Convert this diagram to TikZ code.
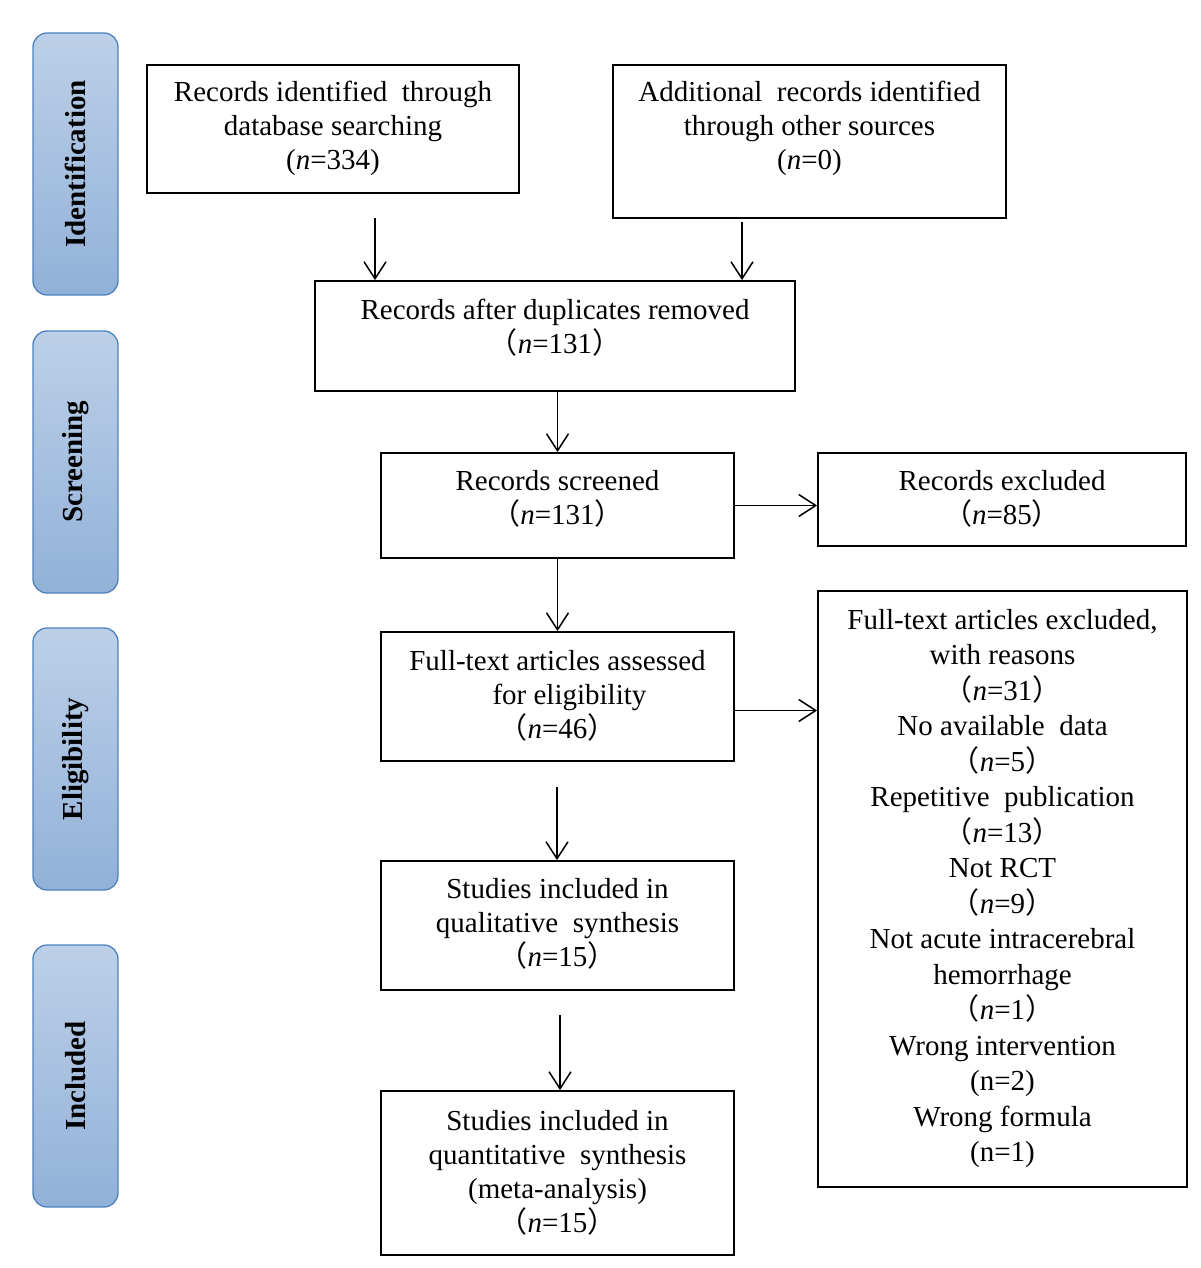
\documentclass[tikz,border=0pt]{standalone}
\usepackage{fontspec}
\setmainfont{Liberation Serif}
\newfontfamily\cjk{Noto Sans CJK SC}
\usetikzlibrary{arrows.meta}
\newcommand{\fl}{{\cjk （}}
\newcommand{\fr}{{\cjk ）}}
\newcommand{\nn}{\textit{n}=}
\definecolor{phasetop}{HTML}{BCD0E8}
\definecolor{phasebot}{HTML}{92B1D8}
\definecolor{phaseborder}{HTML}{4F81BD}
\begin{document}
\begin{tikzpicture}[x=1pt,y=-1pt,
  box/.style={draw=black, line width=1.8pt, inner sep=0pt},
  txt/.style={align=center, font=\fontsize{29}{34}\selectfont, inner sep=0pt},
  txtg/.style={align=center, font=\fontsize{29}{35.5}\selectfont, inner sep=0pt},
  phase/.style={draw=phaseborder, line width=1.3pt, rounded corners=14pt,
    top color=phasetop, bottom color=phasebot, minimum width=85pt, minimum height=262pt, inner sep=0pt},
  phasetxt/.style={rotate=90, font=\fontsize{29}{34}\selectfont\bfseries, inner sep=0pt},
  arr/.style={line width=1.5pt, -{Straight Barb[length=17pt,width=22pt,line width=1.5pt]}}
]
\useasboundingbox (0,0) rectangle (1200,1268);

% phase labels
\node[phase] (p1) at (75.5,164) {};
\node[phasetxt] (p1t) at (p1) {Identification};
\node[phase] (p2) at (75.5,462) {};
\node[phasetxt] (p2t) at (p2) {Screening};
\node[phase] (p3) at (75.5,759) {};
\node[phasetxt] (p3t) at (p3) {Eligibility};
\node[phase] (p4) at (75.5,1076) {};
\node[phasetxt] (p4t) at (p4) {Included};

% boxes
\node[box, minimum width=372pt, minimum height=128pt] (A) at (333,129) {};
\node[txt] (At) at (333,128) {Records identified\ \ through\\database searching\\(\nn334)};

\node[box, minimum width=393pt, minimum height=153pt] (B) at (809.5,141.5) {};
\node[txt] (Bt) at (809.5,128) {Additional\ \ records identified\\through other sources\\(\nn0)};

\node[box, minimum width=480pt, minimum height=110pt] (C) at (555,336) {};
\node[txt] (Ct) at (555,328) {Records after duplicates removed\\\fl\nn131\fr};

\node[box, minimum width=353pt, minimum height=105pt] (D) at (557.5,505.5) {};
\node[txt] (Dt) at (557.5,499) {Records screened\\\fl\nn131\fr};

\node[box, minimum width=368pt, minimum height=93pt] (E) at (1002,499.5) {};
\node[txt] (Et) at (1002,499) {Records excluded\\\fl\nn85\fr};

\node[box, minimum width=353pt, minimum height=129pt] (F) at (557.5,696.5) {};
\node[txt] (Ft) at (557.5,696) {Full-text articles assessed\\\hspace*{24pt}for eligibility\\\fl\nn46\fr};

\node[box, minimum width=369pt, minimum height=596pt] (G) at (1002.5,889) {};
\node[txtg] (Gt) at (1002.5,888.5) {Full-text articles excluded,\\with reasons\\\fl\nn31\fr\\No available\ \ data\\\fl\nn5\fr\\Repetitive\ \ publication\\\fl\nn13\fr\\Not RCT\\\fl\nn9\fr\\Not acute intracerebral\\hemorrhage\\\fl\nn1\fr\\Wrong intervention\\(n=2)\\Wrong formula\\(n=1)};

\node[box, minimum width=353pt, minimum height=129pt] (H) at (557.5,925.5) {};
\node[txt] (Ht) at (557.5,923.5) {Studies included in\\qualitative\ \ synthesis\\\fl\nn15\fr};

\node[box, minimum width=353pt, minimum height=164pt] (I) at (557.5,1173) {};
\node[txt] (It) at (557.5,1172.5) {Studies included in\\quantitative\ \ synthesis\\(meta-analysis)\\\fl\nn15\fr};

% arrows
\coordinate (a1) at (375,218);
\coordinate (b1) at (742,222);
\coordinate (f1) at (557,787);
\coordinate (h1) at (560,1015);
\draw[arr] (a1) -- (a1 |- C.north);
\draw[arr] (b1) -- (b1 |- C.north);
\draw[arr] (D.north |- C.south) -- (D.north);
\draw[arr] (D.east) -- (D.east -| E.west);
\draw[arr] (D.south) -- (F.north);
\draw[arr] ([yshift=-14pt]F.east) -- ([yshift=-14pt]F.east -| G.west);
\draw[arr] (f1) -- (f1 |- H.north);
\draw[arr] (h1) -- (h1 |- I.north);
\end{tikzpicture}
\end{document}
